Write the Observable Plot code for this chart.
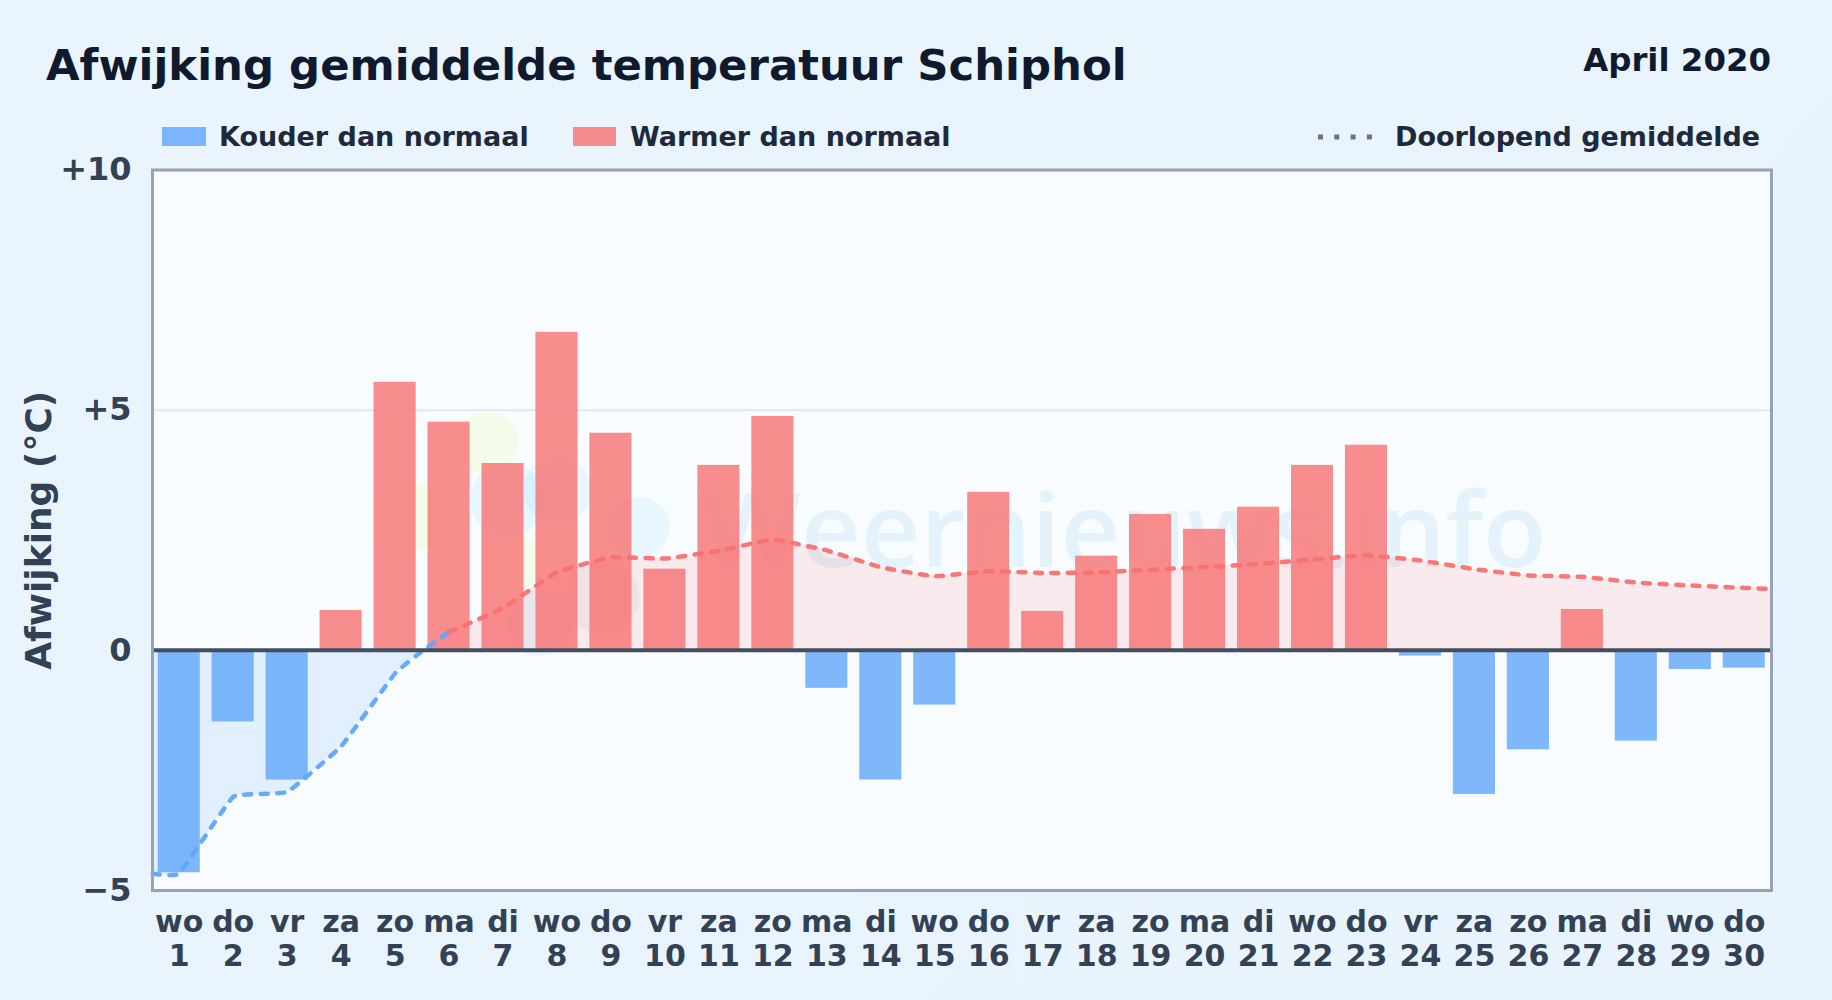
<!DOCTYPE html>
<html lang="nl">
<head>
<meta charset="utf-8">
<script src="https://cdn.jsdelivr.net/npm/d3@7"></script>
<script src="https://cdn.jsdelivr.net/npm/@observablehq/plot@0.6"></script>
<style>
  html, body { margin: 0; padding: 0; width: 1832px; height: 1000px; overflow: hidden; }
  body { background: linear-gradient(135deg, #e9f4fc 0%, #e8f3fc 100%); font-family: "DejaVu Sans", sans-serif; position: relative; }
  .t { position: absolute; white-space: nowrap; font-weight: 700; line-height: 1; }
  #title { left: 46px; top: 44px; font-size: 43.4px; color: #0f1a2e; }
  #period { right: 61px; top: 44px; font-size: 32.4px; color: #0f1a2e; }
  .lg { top: 123px; font-size: 27px; color: #1e293b; }
  .sw { position: absolute; top: 127px; height: 19px; }
  #chart { position: absolute; left: 0; top: 130px; }
</style>
</head>
<body>
<div id="title" class="t">Afwijking gemiddelde temperatuur Schiphol</div>
<div id="period" class="t">April 2020</div>
<div class="sw" style="left:162px;width:44px;background:#60a5fa;opacity:.8"></div>
<div class="t lg" style="left:219px">Kouder dan normaal</div>
<div class="sw" style="left:573px;width:43px;background:#f87171;opacity:.8"></div>
<div class="t lg" style="left:630px">Warmer dan normaal</div>
<svg class="sw" style="left:1316px;top:130px;height:14px" width="60" height="14"><line x1="2" x2="60" y1="7" y2="7" stroke="#64748b" stroke-width="5" stroke-dasharray="5 11.3"/></svg>
<div class="t lg" style="left:1395px">Doorlopend gemiddelde</div>
<div id="chart"></div>
<script>
const days = d3.range(1, 31);
const weekdays = ["wo","do","vr","za","zo","ma","di","wo","do","vr","za","zo","ma","di","wo","do","vr","za","zo","ma","di","wo","do","vr","za","zo","ma","di","wo","do"];
const deviations = [-4.63,-1.49,-2.70,0.83,5.58,4.75,3.89,6.62,4.52,1.69,3.85,4.87,-0.79,-2.70,-1.14,3.29,0.81,1.96,2.83,2.52,2.98,3.85,4.27,-0.12,-3.00,-2.07,0.85,-1.89,-0.40,-0.37];

const coldMeanDays = [0.51,1,2,3,4,5,5.52,6];
const coldMeanValues = [-4.65,-4.65,-3.05,-2.95,-2.00,-0.48,0,0.38];
const warmMeanDays = [5.52,6,7,8,9,10,11,12,13,14,15,16,17,18,19,20,21,22,23,24,25,26,27,28,29,30,30.5];
const warmMeanValues = [0,0.38,0.88,1.63,1.94,1.91,2.07,2.31,2.08,1.73,1.54,1.65,1.61,1.62,1.68,1.73,1.80,1.89,1.98,1.87,1.69,1.56,1.53,1.41,1.35,1.30,1.28];

const yTicks = [-5, 0, 5, 10];
const yTickLabels = ["\u22125", "0", "+5", "+10"];
const watermark = "Weernieuws.info";

const bars = days.map((day, i) => ({day, value: deviations[i]}));
const cold = coldMeanDays.map((day, i) => ({day, value: coldMeanValues[i]}));
const warm = warmMeanDays.map((day, i) => ({day, value: warmMeanValues[i]}));
const coldArea = cold.filter(d => d.value <= 0);
const warmLine = warm.filter(d => d.day >= 6);

const barHalf = 0.39;
const smooth = {curve: "cardinal", tension: 0.75};
const blob = (dx, dy, r, fill, o) => Plot.dot([0], {frameAnchor: "top-left", dx, dy, r, fill, fillOpacity: o, stroke: "none"});
const font = {fontFamily: "DejaVu Sans, sans-serif"};

const plot = Plot.plot({
  width: 1832, height: 870,
  marginLeft: 152, marginRight: 61, marginTop: 39.5, marginBottom: 110,
  style: {background: "transparent", overflow: "visible", ...font},
  x: {type: "linear", domain: [0.505, 30.505], axis: null},
  y: {domain: [-5, 10], axis: null},
  marks: [
    Plot.frame({fill: "#f8fcff", stroke: "none"}),
    // faint site logo and name behind the data
    blob(335, 273, 31, "#ecfccb", 0.45),
    blob(260, 347, 34, "#ecfccb", 0.45),
    blob(364, 393, 27, "#ecfccb", 0.45),
    blob(355, 330, 37, "#7dd3fc", 0.14),
    blob(405, 320, 34, "#7dd3fc", 0.14),
    blob(487, 357, 30, "#7dd3fc", 0.14),
    blob(450, 427, 37, "#94a3b8", 0.1),
    blob(388, 453, 33, "#7dd3fc", 0.14),
    Plot.text([watermark], {frameAnchor: "top-left", dx: 972, dy: 364, text: d => d, fontSize: 104, fontWeight: 600, fill: "#0284c7", fillOpacity: 0.08, textAnchor: "middle", lineAnchor: "middle", fontFamily: "Open Sans, sans-serif"}),
    Plot.ruleY([5], {stroke: "#e2e8ee", strokeWidth: 2}),
    Plot.areaY(coldArea, {x: "day", y1: 0, y2: "value", ...smooth, fill: "#60a5fa", fillOpacity: 0.15}),
    Plot.areaY(warm, {x: "day", y1: 0, y2: "value", ...smooth, fill: "#f87171", fillOpacity: 0.13}),
    Plot.rectY(bars, {x1: d => d.day - barHalf, x2: d => d.day + barHalf, y1: 0, y2: "value", fill: d => d.value < 0 ? "#60a5fa" : "#f87171", fillOpacity: 0.8}),
    Plot.line(cold, {x: "day", y: "value", ...smooth, stroke: "#60a5fa", strokeWidth: 4.5, strokeDasharray: "7 9.5", strokeLinecap: "round", strokeOpacity: 0.95}),
    Plot.line(warmLine, {x: "day", y: "value", ...smooth, stroke: "#f87171", strokeWidth: 4.5, strokeDasharray: "7 9.5", strokeLinecap: "round", strokeOpacity: 0.95}),
    Plot.ruleY([0], {stroke: "#434e60", strokeWidth: 4}),
    Plot.frame({stroke: "#94a3b8", strokeWidth: 3, fill: "none"}),
    Plot.axisY({ticks: yTicks, tickFormat: v => yTickLabels[yTicks.indexOf(v)], tickSize: 0, tickPadding: 21, fontSize: 32, fontWeight: 700, fill: "#334155", label: null}),
    Plot.axisX({ticks: days, tickFormat: d => `${weekdays[d - 1]}\n${d}`, tickSize: 0, tickPadding: 17, fontSize: 30, fontWeight: 700, fill: "#334155", lineHeight: 1.15, label: null}),
    Plot.text(["Afwijking (°C)"], {frameAnchor: "left", rotate: -90, dx: -113.5, textAnchor: "middle", text: d => d, fontSize: 36, fontWeight: 700, fill: "#334155"})
  ]
});
document.getElementById("chart").appendChild(plot);
</script>
</body>
</html>
